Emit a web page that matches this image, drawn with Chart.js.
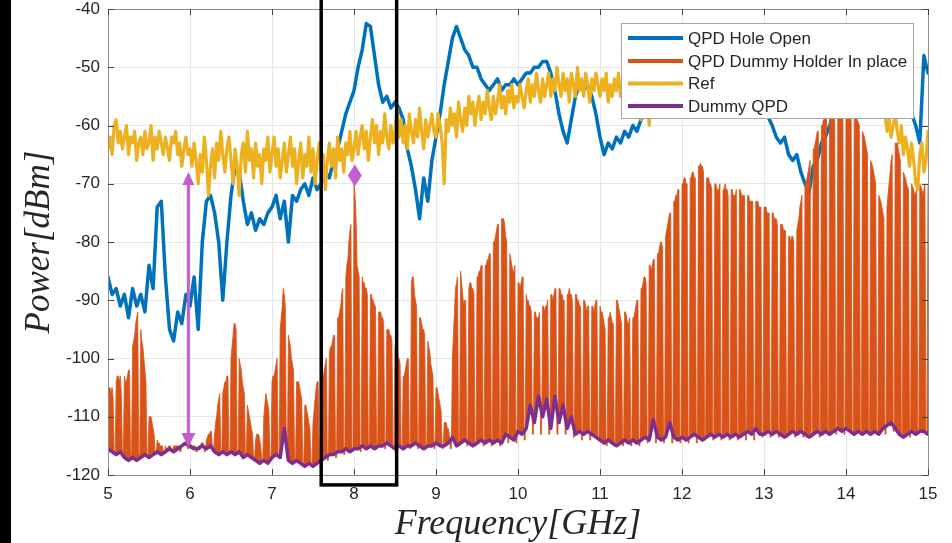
<!DOCTYPE html>
<html>
<head>
<meta charset="utf-8">
<script src="https://cdn.jsdelivr.net/npm/chart.js@4.4.1/dist/chart.umd.min.js"></script>
<style>
html,body{margin:0;padding:0;background:#fff;}
#wrap{width:952px;height:543px;position:relative;}
canvas{display:block;}
</style>
</head>
<body>
<div id="wrap"><canvas id="c" width="952" height="543"></canvas></div>
<script>
// ---------- axis / category definitions ----------
const freqStartGHz = 5;
const coarseStepGHz = 0.05;   // grid of the smoother traces
const refStepGHz = 0.025;     // grid of the Ref trace
const fineStepGHz = 0.0125;   // grid of the comb-like trace
const xTickValues = [5, 6, 7, 8, 9, 10, 11, 12, 13, 14, 15];
const yTickValues = [-120, -110, -100, -90, -80, -70, -60, -50, -40];
const seriesLabels = ['QPD Hole Open', 'QPD Dummy Holder In place', 'Ref', 'Dummy QPD'];

// ---------- series values (dBm) ----------
const holeOpenPower = [
-86,-89,-88,-91,-89,-93,-88,-91,-89,-92,
-84,-88,-74,-73,-86,-95,-97,-92,-94,-89,
-91,-86,-95,-80,-73,-72,-75,-80,-90,-80,
-72,-67,-68,-73,-77,-75,-78,-76,-77,-75,
-74,-72,-76,-73,-80,-72,-73,-71,-70,-72,
-69,-71,-70,-68,-69,-66,-64,-61,-58,-56,
-54,-50,-47,-42.5,-43,-48,-53,-56,-55,-57,
-56,-57,-59,-64,-67,-71,-76,-69,-73,-66,
-62,-58,-53,-49,-45,-43,-45,-47,-48,-50,
-50,-52,-53,-54,-53,-52,-54,-53,-53,-52,
-53,-52,-51,-51,-50,-50,-49,-49,-51,-54,
-58,-61,-63,-59,-55,-53,-54,-53,-55,-58,
-62,-65,-63,-64,-62,-63,-61,-62,-60,-61,
-59,-58,-57,-56,-55,-54,-55,-53,-54,-52,
-53,-54,-52,-53,-54,-55,-53,-54,-55,-54,
-53,-52,-53,-54,-55,-54,-55,-56,-56,-57,
-58,-58.5,-60,-62,-63,-62,-65,-66,-65,-68,
-70,-71.5,-67,-66,-63,-62,-60,-58,-56,-55,
-54,-55,-54,-53,-54,-55,-54,-55,-56,-55,
-56,-55,-56,-57,-56,-57,-58,-60,-63,-48,
-51
];

const refPower = [
-64,-62,-65,-60,-59,-63,-61,-64,-62,-60,
-65,-62,-63,-61,-66,-63,-62,-65,-61,-64,
-63,-60,-66,-62,-64,-61,-63,-65,-62,-64,
-66,-62,-63,-61,-65,-63,-67,-64,-62,-65,
-64,-67,-63,-66,-70,-65,-68,-62,-66,-72,
-67,-64,-69,-63,-66,-61,-65,-68,-64,-62,
-66,-70,-64,-67,-72,-65,-63,-68,-61,-66,
-64,-69,-63,-67,-65,-70,-64,-66,-62,-68,
-65,-62,-67,-64,-69,-66,-63,-68,-65,-62,
-67,-64,-70,-66,-63,-69,-65,-67,-62,-68,
-64,-70,-66,-63,-68,-65,-71,-66,-63,-67,
-64,-69,-62,-66,-64,-68,-63,-65,-61,-66,
-64,-61,-65,-62,-60,-64,-61,-66,-62,-59,
-63,-60,-65,-61,-63,-58,-62,-64,-60,-63,
-61,-57,-62,-59,-63,-60,-64,-58,-61,-63,
-59,-62,-57,-61,-64,-59,-62,-60,-58,-61,
-62,-58,-60,-63,-70,-59,-61,-57,-60,-58,
-62,-56,-59,-61,-57,-60,-55,-58,-56,-60,
-57,-55,-59,-56,-58,-54,-57,-59,-55,-58,
-56,-53,-57,-55,-58,-54,-56,-53,-57,-55,
-56,-53,-55,-57,-54,-52,-56,-53,-55,-51,
-54,-56,-52,-55,-53,-51,-55,-52,-54,-50,
-53,-55,-51,-54,-52,-56,-51,-53,-55,-50,
-54,-52,-55,-51,-53,-56,-52,-54,-51,-53,
-55,-52,-54,-51,-56,-53,-55,-52,-54,-51,
-55,-53,-56,-52,-54,-51,-55,-53,-52,-56,
-59,-53,-52,-55,-60,-54,-53,-52,-55,-51,
-54,-52,-55,-53,-51,-54,-52,-55,-53,-51,
-54,-52,-55,-51,-54,-53,-52,-55,-51,-54,
-52,-55,-53,-51,-54,-52,-55,-51,-53,-54,
-52,-55,-51,-54,-53,-52,-55,-51,-54,-52,
-53,-55,-51,-54,-52,-55,-53,-51,-54,-52,
-55,-53,-51,-54,-52,-55,-53,-51,-54,-52,
-55,-51,-53,-54,-52,-55,-51,-54,-53,-52,
-55,-51,-54,-52,-53,-55,-52,-54,-51,-53,
-55,-52,-54,-53,-51,-54,-52,-55,-53,-52,
-54,-56,-53,-55,-52,-56,-54,-57,-53,-55,
-56,-54,-57,-55,-58,-56,-57,-58,-56,-58,
-61,-59,-62,-60,-58,-61,-63,-60,-65,-62,
-64,-67,-63,-66,-70,-71,-65,-63,-68,-66,
-61
];

const dummyQpdPower = [
-115.5,-116,-116.5,-116,-117,-117.5,-117,-117.5,-117,-116.5,
-117,-116.5,-116,-116.5,-116,-115.5,-116,-115.5,-115,-114.5,
-115,-115.5,-115.5,-115,-115.5,-115,-116,-116.5,-116,-116.5,
-116,-116.5,-116,-117,-116.5,-117,-117.5,-118,-117.5,-118,
-117,-116.5,-117,-112,-117.5,-118,-117.5,-118,-118.5,-118,
-118.5,-118,-117.5,-117,-116.5,-116.5,-116,-116,-115.5,-116,
-115.5,-115.5,-115,-115.5,-115,-115.5,-115,-115,-114.5,-115,
-115.5,-115,-115.5,-115,-115,-114.5,-115,-115.5,-115,-115,
-114.5,-115,-115,-114.5,-113.5,-115,-114.5,-114,-114.5,-115,
-114.5,-114,-114.5,-114,-114.5,-114,-114.5,-113,-113.5,-114,
-112.5,-113,-112,-108,-111,-106.5,-110,-107,-112,-106.5,
-111,-108,-112,-110,-113,-112.5,-113,-112.5,-113,-113.5,
-114,-114.5,-114,-114.5,-115,-114.5,-114,-114.5,-114,-114.5,
-114,-113.5,-114,-110.5,-113.5,-114,-113.5,-111,-113.5,-114,
-113.5,-114,-113.5,-113,-113.5,-114,-113.5,-113,-113.5,-113,
-113.5,-113,-113.5,-113,-113.5,-113,-112.5,-113,-112,-113,
-113,-112.5,-113,-112.5,-113,-113.5,-113,-112.5,-113,-112.5,
-113,-113.5,-113,-112.5,-113,-112.5,-113,-112.5,-112,-112.5,
-112,-112.5,-113,-112.5,-113,-112.5,-113,-112.5,-113,-112,
-111.5,-111,-112,-113,-113.5,-113,-112.5,-113,-112.5,-112.5,
-113
];

// one row per 0.1 GHz tooth: 6 samples on the tooth, 2 samples in the narrow gap
const dummyHolderPower = [
-106,-105,-105,-106,-105,-107,-116,-116,
-104,-103,-103,-104,-103,-106,-116,-116,
-103,-104,-104,-103,-102,-102,-116.5,-116.5,
-98,-97,-96,-94,-93,-92,-116.5,-116.5,
-95,-97,-98,-100,-102,-104,-116.5,-116.5,
-110,-110,-110,-111,-112,-113,-116.5,-116.5,
-114,-114.5,-114.5,-115,-115,-115,-116,-116,
-115,-115.5,-115.5,-115,-115,-115,-116,-116,
-115,-115,-115,-115,-115,-115,-116,-116,
-115,-114.5,-114.5,-114.5,-115,-115,-115.5,-115.5,
-115,-115.5,-115.5,-115,-115,-115,-116,-116,
-115,-115,-115,-114.5,-114.5,-114.5,-116,-116,
-114,-113.5,-113,-113,-112.5,-112.5,-116,-116,
-113,-111,-110,-108,-107,-106,-116,-116,
-106,-105,-104,-104,-103,-103,-116.5,-116.5,
-100,-98,-96,-94,-94,-95,-116.5,-116.5,
-100,-101,-102,-104,-105,-106,-116.5,-116.5,
-108,-109,-110,-111,-112,-113,-117,-117,
-114,-113,-113,-113,-114,-115,-117.5,-117.5,
-110,-108,-106,-107,-108,-109,-117.5,-117.5,
-104,-103,-103,-102,-101,-100,-117,-117,
-95,-93,-91,-88,-89,-91,-117,-117,
-96,-97,-98,-100,-101,-102,-117.5,-117.5,
-104,-104,-104,-105,-106,-107,-118,-118,
-108,-108,-109,-110,-111,-112,-118,-118,
-111,-109,-107,-105,-104,-104,-118,-118,
-103,-103,-103,-102,-101,-100,-117.5,-117.5,
-99,-98,-98,-97,-96,-96,-117,-117,
-93,-93,-92,-91,-89,-88,-116.5,-116.5,
-86,-84,-83,-80,-78,-77,-116,-116,
-69.5,-72,-76,-84,-85,-86,-116,-116,
-86,-87,-87,-88,-88,-89,-115.5,-115.5,
-89,-89,-90,-90,-91,-91,-115.5,-115.5,
-92,-92,-92,-93,-93,-94,-115.5,-115.5,
-95,-95,-95,-96,-96,-97,-115.5,-115.5,
-98,-98,-99,-100,-100,-101,-115.5,-115.5,
-103,-103,-102,-101,-100,-100,-115.5,-115.5,
-87,-86,-86,-89,-90,-91,-115.5,-115.5,
-93,-93,-94,-95,-95,-96,-115.5,-115.5,
-97,-98,-99,-101,-102,-103,-115.5,-115.5,
-105,-105,-106,-107,-108,-109,-115.5,-115.5,
-111,-111,-111,-112,-112,-113,-115.5,-115.5,
-100,-96,-92,-88,-87,-86,-115,-115,
-85,-87,-89,-91,-90,-90,-115,-115,
-88,-87,-87,-88,-88,-89,-115,-115,
-86,-86,-85,-85,-84,-84,-115,-115,
-84,-84,-83,-83,-82,-82,-115,-115,
-80,-80,-79,-78,-77,-77,-115,-115,
-76,-76,-76,-77,-79,-80,-114.5,-114.5,
-82,-83,-84,-85,-85,-84,-114.5,-114.5,
-87,-87,-88,-87,-86,-86,-114,-114,
-89,-90,-90,-91,-91,-92,-113,-113,
-92,-92,-93,-93,-93,-92,-113,-113,
-91,-91,-92,-91,-91,-90,-113,-113,
-89,-89,-90,-89,-88,-88,-113,-113,
-88,-88,-89,-89,-90,-90,-113,-113,
-89,-89,-88,-89,-89,-90,-113.5,-113.5,
-89,-89,-90,-90,-91,-91,-114,-114,
-90,-90,-91,-92,-91,-91,-114,-114,
-91,-91,-92,-91,-90,-90,-114,-114,
-91,-92,-92,-93,-94,-95,-115,-115,
-93,-93,-92,-93,-94,-94,-115,-115,
-90,-90,-91,-92,-93,-94,-115,-115,
-92,-92,-93,-94,-94,-93,-115,-115,
-93,-93,-92,-91,-90,-90,-115,-115,
-88,-88,-87,-86,-86,-87,-114.5,-114.5,
-84,-84,-85,-84,-83,-83,-114.5,-114.5,
-82,-82,-81,-80,-80,-81,-114.5,-114.5,
-79,-78,-77,-76,-75,-75,-114.5,-114.5,
-73,-73,-72,-72,-71,-71,-114.5,-114.5,
-70,-70,-69,-69,-70,-70,-114.5,-114.5,
-69,-69,-68,-68,-69,-69,-114.5,-114.5,
-67,-67,-66.5,-67,-67,-68,-114,-114,
-69,-69,-69,-70,-70,-71,-114,-114,
-70,-70,-71,-71,-71,-70,-114,-114,
-71,-71,-70,-71,-71,-72,-114,-114,
-71,-71,-72,-72,-72,-71,-114,-114,
-71,-71,-72,-72,-72,-72,-114,-114,
-72,-72,-73,-73,-73,-73,-114,-114,
-73,-73,-73,-74,-74,-74,-113.5,-113.5,
-74,-74,-74,-75,-75,-75,-113.5,-113.5,
-75,-75,-76,-76,-76,-77,-113.5,-113.5,
-77,-77,-77,-78,-78,-78,-113.5,-113.5,
-79,-79,-80,-79,-79,-80,-113.5,-113.5,
-78,-77,-76,-74,-73,-72,-113.5,-113.5,
-70,-70,-69,-68,-67,-66,-113.5,-113.5,
-64,-64,-63,-62,-61,-61,-113.5,-113.5,
-60,-60,-59,-59,-58.5,-58.5,-113,-113,
-58,-57.5,-57,-57,-57,-57,-113,-113,
-57,-56.5,-56,-56,-56.5,-57,-113,-113,
-57,-56.5,-56,-57,-57,-57,-113,-113,
-58,-58,-58,-59,-59.5,-60,-113,-113,
-61,-61.5,-62,-63,-64,-65,-113,-113,
-66,-66.5,-67,-68,-69,-70,-113,-113,
-72,-72.5,-73,-74,-75,-76,-113,-113,
-74,-72,-70,-68,-66,-65,-112.5,-112.5,
-63,-63,-63,-64,-65,-66,-113,-113,
-68,-68.5,-69,-70,-70.5,-71,-113.5,-113.5,
-70,-70.5,-71,-72,-71.5,-71,-113,-113,
-70,-70.5,-71,-72,-71,-70,-113,-113,
-70
];

// ---------- annotation values (GHz / dBm) ----------
const boxFreqRange = [7.6, 8.52];
const boxPowerRange = [-121.7, -37];
const arrowFreq = 5.98;
const arrowPowerRange = [-115.2, -68];
const markerPoint = {f: 8.01, p: -68.6};

// ---------- build library tables ----------
function toPoints(values, step) {
  return values.map((v, i) => ({x: Math.round((freqStartGHz + i * step) * 1e4) / 1e4, y: v}));
}
const seriesColors = ['#0072BD', '#D95319', '#EDB120', '#7E2F8E'];

const datasets = [
  {label: seriesLabels[0], data: toPoints(holeOpenPower, coarseStepGHz), borderColor: seriesColors[0], borderWidth: 3.5, order: 4, fill: false},
  {label: seriesLabels[1], data: toPoints(dummyHolderPower, fineStepGHz), borderColor: seriesColors[1], backgroundColor: seriesColors[1], borderWidth: 0.8, order: 3, fill: '+2'},
  {label: seriesLabels[2], data: toPoints(refPower, refStepGHz), borderColor: seriesColors[2], borderWidth: 3.2, order: 2, fill: false},
  {label: seriesLabels[3], data: toPoints(dummyQpdPower, coarseStepGHz), borderColor: seriesColors[3], borderWidth: 3.5, order: 1, fill: false}
].map(d => Object.assign(d, {pointRadius: 0, tension: 0, borderJoinStyle: 'round', borderCapStyle: 'round'}));

const pink = '#c45ecf';

const decor = {
  id: 'decor',
  beforeDraw(chart) {
    const {ctx, width, height} = chart;
    ctx.save();
    ctx.fillStyle = '#ffffff';
    ctx.fillRect(0, 0, width, height);
    ctx.fillStyle = '#000000';
    ctx.fillRect(0, 0, 11, height);
    ctx.restore();
  },
  afterDraw(chart) {
    const {ctx, chartArea: a, scales: {x, y}} = chart;
    ctx.save();
    // axes box
    ctx.strokeStyle = '#8c8c8c';
    ctx.lineWidth = 1;
    ctx.beginPath();
    ctx.rect(Math.round(a.left) + 0.5, Math.round(a.top) + 0.5, Math.round(a.right - a.left), Math.round(a.bottom - a.top));
    ctx.stroke();
    // inward ticks
    ctx.strokeStyle = '#444';
    ctx.beginPath();
    xTickValues.forEach(v => {
      const px = Math.round(x.getPixelForValue(v)) + 0.5;
      ctx.moveTo(px, a.bottom); ctx.lineTo(px, a.bottom - 6);
      ctx.moveTo(px, a.top); ctx.lineTo(px, a.top + 6);
    });
    yTickValues.forEach(v => {
      const py = Math.round(y.getPixelForValue(v)) + 0.5;
      ctx.moveTo(a.left, py); ctx.lineTo(a.left + 6, py);
      ctx.moveTo(a.right, py); ctx.lineTo(a.right - 6, py);
    });
    ctx.stroke();

    // black rectangle
    const rx0 = x.getPixelForValue(boxFreqRange[0]), rx1 = x.getPixelForValue(boxFreqRange[1]);
    const ry0 = y.getPixelForValue(boxPowerRange[1]), ry1 = y.getPixelForValue(boxPowerRange[0]);
    ctx.strokeStyle = '#000';
    ctx.lineWidth = 3.5;
    ctx.strokeRect(rx0, ry0, rx1 - rx0, ry1 - ry0);

    // double-headed arrow
    const ax = x.getPixelForValue(arrowFreq);
    const aTop = y.getPixelForValue(arrowPowerRange[1]);
    const aBot = y.getPixelForValue(arrowPowerRange[0]);
    ctx.strokeStyle = pink; ctx.fillStyle = pink; ctx.lineWidth = 3;
    ctx.beginPath(); ctx.moveTo(ax, aTop + 10); ctx.lineTo(ax, aBot - 10); ctx.stroke();
    ctx.beginPath(); ctx.moveTo(ax, aTop); ctx.lineTo(ax - 6, aTop + 13); ctx.lineTo(ax + 6, aTop + 13); ctx.closePath(); ctx.fill();
    ctx.beginPath(); ctx.moveTo(ax, aBot); ctx.lineTo(ax - 7, aBot - 14); ctx.lineTo(ax + 7, aBot - 14); ctx.closePath(); ctx.fill();

    // diamond marker
    const mx = x.getPixelForValue(markerPoint.f), my = y.getPixelForValue(markerPoint.p);
    ctx.beginPath();
    ctx.moveTo(mx, my - 11); ctx.lineTo(mx + 7, my); ctx.lineTo(mx, my + 11); ctx.lineTo(mx - 7, my); ctx.closePath();
    ctx.fill();

    // legend
    const L = {x: 621, y: 23, w: 292, h: 95};
    ctx.fillStyle = '#ffffff';
    ctx.fillRect(L.x, L.y, L.w, L.h);
    ctx.strokeStyle = '#a6a6a6'; ctx.lineWidth = 1;
    ctx.strokeRect(L.x + 0.5, L.y + 0.5, L.w, L.h);
    const rows = [38, 61, 83.5, 106];
    ctx.font = '17px "Liberation Sans", Arial, sans-serif';
    ctx.textBaseline = 'middle';
    seriesLabels.forEach((lab, i) => {
      ctx.strokeStyle = seriesColors[i]; ctx.lineWidth = 4;
      ctx.beginPath(); ctx.moveTo(628, rows[i]); ctx.lineTo(683, rows[i]); ctx.stroke();
      ctx.fillStyle = '#262626';
      ctx.fillText(lab, 688, rows[i] + 1);
    });
    ctx.restore();
  }
};

new Chart(document.getElementById('c'), {
  type: 'line',
  data: {datasets},
  options: {
    responsive: false,
    animation: false,
    devicePixelRatio: 1,
    events: [],
    layout: {padding: {top: 9, right: 24, left: 0, bottom: 0}},
    plugins: {legend: {display: false}, tooltip: {enabled: false}, filler: {propagate: false}},
    scales: {
      x: {
        type: 'linear',
        min: xTickValues[0], max: xTickValues[xTickValues.length - 1],
        afterFit(s) { s.height = 68; },
        ticks: {stepSize: 1, padding: 9, color: '#262626', font: {family: '"Liberation Sans", Arial, sans-serif', size: 17, lineHeight: 1.2}, maxRotation: 0},
        grid: {color: '#e6e6e6', drawTicks: false},
        border: {display: true, color: '#8c8c8c'},
        title: {display: true, text: 'Frequency[GHz]', color: '#262626', padding: {top: 0, bottom: 0}, font: {family: '"Liberation Serif", "Times New Roman", serif', style: 'italic', size: 36, lineHeight: 1.0}}
      },
      y: {
        type: 'linear',
        min: yTickValues[0], max: yTickValues[yTickValues.length - 1],
        afterFit(s) { s.width = 108; },
        ticks: {stepSize: 10, padding: 0, color: '#262626', font: {family: '"Liberation Sans", Arial, sans-serif', size: 17, lineHeight: 1}},
        grid: {color: '#e6e6e6', drawTicks: true, tickLength: 8, tickColor: 'rgba(0,0,0,0)'},
        border: {display: true, color: '#8c8c8c'},
        title: {display: true, text: 'Power[dBm]', color: '#262626', padding: {top: 19, bottom: 0}, font: {family: '"Liberation Serif", "Times New Roman", serif', style: 'italic', size: 35, lineHeight: 1.2}}
      }
    }
  },
  plugins: [decor]
});
</script>
</body>
</html>
